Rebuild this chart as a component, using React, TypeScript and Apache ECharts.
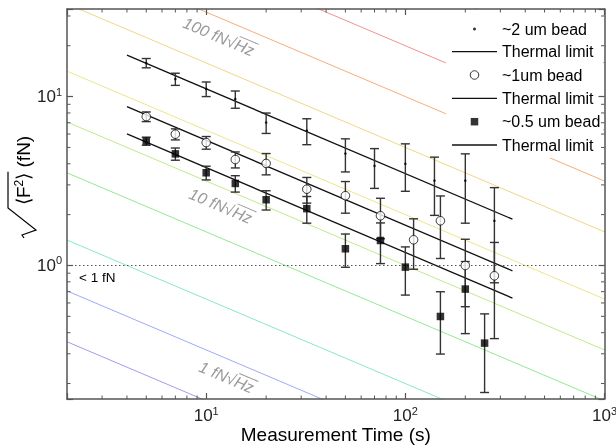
import React, { useEffect, useRef } from 'react';
import * as echarts from 'echarts';

const FONT = '"Liberation Sans", Arial, Helvetica, sans-serif';

// Axis ranges (log-log)
const X_MIN = 2;
const X_MAX = 1000;
const Y_MIN = 0.162;
const Y_MAX = 33;
const X_MINOR_TICKS = [3, 4, 5, 6, 7, 8, 9, 20, 30, 40, 50, 60, 70, 80, 90, 200, 300, 400, 500, 600, 700, 800, 900];
const Y_MINOR_TICKS = [0.2, 0.3, 0.4, 0.5, 0.6, 0.7, 0.8, 0.9, 2, 3, 4, 5, 6, 7, 8, 9, 20, 30];

// ~2 um bead
const t2um = [5, 7, 10, 14, 20, 32, 50, 70, 100, 140, 200, 280];
const f2um = [15.8, 12.7, 11.1, 9.66, 7.02, 6.29, 4.6, 3.89, 4.0, 3.18, 3.18, 1.84];
const e2um = [1.0, 1.05, 1.1, 1.13, 0.97, 1.1, 1.02, 1.03, 1.25, 1.2, 1.4, 1.05];

// ~1 um bead
const t1um = [5, 7, 10, 14, 20, 32, 50, 75, 110, 150, 200, 280];
const f1um = [7.61, 5.99, 5.34, 4.24, 4.02, 2.83, 2.59, 1.97, 1.42, 1.84, 1.0, 0.869];
const e1um = [0.5, 0.45, 0.46, 0.46, 0.58, 0.49, 0.55, 0.53, 0.47, 0.74, 0.43, 0.5];

// ~0.5 um bead
const t05um = [5, 7, 10, 14, 20, 32, 50, 75, 100, 150, 200, 250];
const f05um = [5.45, 4.58, 3.54, 3.06, 2.45, 2.17, 1.256, 1.406, 0.978, 0.499, 0.725, 0.347];
const e05um = [0.3, 0.38, 0.33, 0.34, 0.32, 0.39, 0.28, 0.38, 0.31, 0.2, 0.33, 0.17];

// Thermal limit lines (end points)
const thermalT = [4, 345];
const thermal2um = [17.6, 1.88];
const thermal1um = [8.73, 0.93];
const thermal05um = [6.02, 0.641];

// Constant force-noise reference lines, level in fN·√Hz (F = level / √T)
const refLevels = [0.5, 1, 2, 5, 10, 20, 50, 100, 200, 500];
const refColors = ['#a898ee', '#9eaaf6', '#86e8cc', '#94e894', '#c0ea8c', '#ece68a', '#f2d684', '#f5ad7c', '#f29090', '#e48ce4'];

const legendNames = ['~2 um bead', 'Thermal limit (~2 um)', '~1um bead', 'Thermal limit (~1um)', '~0.5 um bead', 'Thermal limit (~0.5 um)'];
const legendLabels = ['~2 um bead', 'Thermal limit', '~1um bead', 'Thermal limit', '~0.5 um bead', 'Thermal limit'];

export default function App() {
  const ref = useRef<HTMLDivElement>(null);

  useEffect(() => {
    document.body.style.margin = '0';
    const chart = echarts.init(ref.current!, null, { renderer: 'svg' });
    const ctx = document.createElement('canvas').getContext('2d')!;
    const measure = (t: string, font: string) => {
      ctx.font = font;
      return ctx.measureText(t).width;
    };

    const powLabel = (v: number) => {
      const l = Math.log10(v);
      const e = Math.round(l);
      if (Math.abs(l - e) > 1e-6) return '';
      return `{b|10}{s|${e}}`;
    };
    const labelRich = {
      b: { fontSize: 17, fontFamily: FONT, color: '#222' },
      s: { fontSize: 11, fontFamily: FONT, color: '#222', padding: [0, 0, 10, 0] },
    };
    const frame = { color: '#555', width: 1.5 };

    const xCommon = {
      type: 'log', logBase: 10, min: X_MIN, max: X_MAX, z: 5,
      axisLine: { show: true, onZero: false, lineStyle: frame },
      axisTick: { show: true, inside: true, length: 6, lineStyle: { color: '#555', width: 1.2 } },
      splitLine: { show: false }, minorTick: { show: false }, minorSplitLine: { show: false },
    };
    const yCommon = {
      type: 'log', logBase: 10, min: Y_MIN, max: Y_MAX, z: 5,
      axisLine: { show: true, onZero: false, lineStyle: frame },
      axisTick: { show: true, inside: true, length: 6, lineStyle: { color: '#555', width: 1.2 } },
      splitLine: { show: false }, minorTick: { show: false }, minorSplitLine: { show: false },
    };

    const errData = (t: number[], f: number[], e: number[]) => t.map((x, i) => [x, f[i] - e[i], f[i] + e[i]]);
    const errSeries = (name: string, t: number[], f: number[], e: number[]) => ({
      type: 'custom', name, silent: true, z: 3,
      data: errData(t, f, e),
      encode: { x: 0, y: [1, 2] },
      renderItem: (params: any, api: any) => {
        const x = api.value(0);
        const lo = api.coord([x, api.value(1)]);
        const hi = api.coord([x, api.value(2)]);
        const w = 4.5;
        const st = { stroke: '#333', lineWidth: 1.4 };
        return {
          type: 'group',
          children: [
            { type: 'line', shape: { x1: lo[0], y1: lo[1], x2: hi[0], y2: hi[1] }, style: st },
            { type: 'line', shape: { x1: lo[0] - w, y1: lo[1], x2: lo[0] + w, y2: lo[1] }, style: st },
            { type: 'line', shape: { x1: hi[0] - w, y1: hi[1], x2: hi[0] + w, y2: hi[1] }, style: st },
          ],
        };
      },
    });

    const refSeries = refLevels.map((lv, i) => ({
      type: 'line', name: `ref ${lv}`, silent: true, z: 1, clip: true,
      symbol: 'none', showSymbol: false,
      lineStyle: { color: refColors[i], width: 1 },
      data: [[X_MIN, lv / Math.sqrt(X_MIN)], [X_MAX, lv / Math.sqrt(X_MAX)]],
    }));

    const thermalSeries = (name: string, vals: number[]) => ({
      type: 'line', name, silent: true, z: 2, color: '#111',
      symbol: 'none', showSymbol: false,
      lineStyle: { color: '#111', width: 1.3 },
      data: thermalT.map((t, i) => [t, vals[i]]),
    });

    const minorTickSeries = [
      {
        type: 'custom', name: 'x minor ticks', silent: true, z: 5,
        data: X_MINOR_TICKS.map((v) => [v, Y_MIN]),
        renderItem: (params: any, api: any) => {
          const cs = params.coordSys;
          const px = api.coord([api.value(0), Y_MIN])[0];
          const st = { stroke: '#555', lineWidth: 1 };
          return {
            type: 'group', children: [
              { type: 'line', shape: { x1: px, y1: cs.y + cs.height, x2: px, y2: cs.y + cs.height - 3.5 }, style: st },
              { type: 'line', shape: { x1: px, y1: cs.y, x2: px, y2: cs.y + 3.5 }, style: st },
            ],
          };
        },
      },
      {
        type: 'custom', name: 'y minor ticks', silent: true, z: 5,
        data: Y_MINOR_TICKS.map((v) => [X_MIN, v]),
        renderItem: (params: any, api: any) => {
          const cs = params.coordSys;
          const py = api.coord([X_MIN, api.value(1)])[1];
          const st = { stroke: '#555', lineWidth: 1 };
          return {
            type: 'group', children: [
              { type: 'line', shape: { x1: cs.x, y1: py, x2: cs.x + 3.5, y2: py }, style: st },
              { type: 'line', shape: { x1: cs.x + cs.width, y1: py, x2: cs.x + cs.width - 3.5, y2: py }, style: st },
            ],
          };
        },
      },
    ];

    // Legend layout: icon box 45 px wide at x = 452, text 5 px after it.
    const LEG_X = 452;
    const LEG_W = 45;
    const rowCenters = [29, 51.7, 75, 98.3, 121.7, 145];
    const legendIcons: any[] = [
      { icon: 'circle', h: 3, keep: true, shift: (LEG_W - 3) / 2 },
      { icon: 'rect', h: 1.3, keep: false, shift: 0 },
      { icon: 'circle', h: 8.5, keep: true, shift: (LEG_W - 8.5) / 2 - 0.5, itemStyle: { color: '#fff', borderColor: '#000', borderWidth: 1 } },
      { icon: 'rect', h: 1.3, keep: false, shift: 0 },
      { icon: 'path://M0,0h10v10h-10z', h: 7.5, keep: true, shift: (LEG_W - 7.5) / 2 },
      { icon: 'rect', h: 1.3, keep: false, shift: 0 },
    ];
    const legends = legendNames.map((n, i) => {
      const li = legendIcons[i];
      const lg: any = {
        data: [{ name: n, icon: li.icon }],
        orient: 'vertical', left: LEG_X + li.shift, top: rowCenters[i] - 8, padding: 0,
        itemWidth: LEG_W, itemHeight: li.h, symbolKeepAspect: li.keep,
        selectedMode: false, z: 10,
        formatter: () => legendLabels[i],
        textStyle: { fontSize: 16, fontFamily: FONT, color: '#000' },
      };
      if (li.itemStyle) lg.itemStyle = li.itemStyle;
      return lg;
    });

    // reference-line labels
    const lblFont = `italic 16px ${FONT}`;
    const refLabel = (lvl: string, x: number, y: number) => {
      const w1 = measure(`${lvl} fN√`, lblFont);
      const w2 = measure('Hz', lblFont);
      return {
        type: 'group', x, y, rotation: -0.4007, z: 3,
        children: [
          { type: 'text', z: 3, style: { text: `${lvl} fN√Hz`, x: 0, y: 0, fill: '#999', fontSize: 16, fontStyle: 'italic', fontFamily: FONT, verticalAlign: 'middle', align: 'left' } },
          { type: 'line', z: 3, shape: { x1: w1 + 1, y1: -8.5, x2: w1 + w2 + 2, y2: -8.5 }, style: { stroke: '#999', lineWidth: 1 } },
        ],
      };
    };

    // y axis title: sqrt(<F^2>) (fN)
    const wBr = measure('⟨F', `19px ${FONT}`) + measure('2', `12px ${FONT}`) + measure('⟩', `19px ${FONT}`);
    const yTitle = {
      type: 'group', x: 22, y: 187, rotation: Math.PI / 2, z: 3,
      children: [
        {
          type: 'polyline', z: 3,
          shape: { points: [[-51, 2], [-48, 0], [-43, 14], [-21, -14], [-18 + wBr + 1, -14]] },
          style: { stroke: '#000', lineWidth: 1.2, fill: null },
        },
        {
          type: 'text', z: 3,
          style: {
            text: '{a|⟨F}{s|2}{a|⟩}{a| (fN)}', x: -18, y: 1, verticalAlign: 'middle', align: 'left',
            rich: {
              a: { fontSize: 19, fontFamily: FONT, fill: '#000' },
              s: { fontSize: 12, fontFamily: FONT, fill: '#000', padding: [0, 0, 9, 0] },
            },
          },
        },
      ],
    };

    const option: any = {
      animation: false,
      textStyle: { fontFamily: FONT },
      grid: { left: 67, right: 11.5, top: 9, bottom: 48, containLabel: false, outerBoundsMode: 'none' },
      xAxis: [
        {
          ...xCommon, position: 'bottom',
          name: 'Measurement Time (s)', nameLocation: 'middle', nameGap: 26, nameMoveOverlap: false,
          nameTextStyle: { fontSize: 19, color: '#000', fontFamily: FONT },
          axisLabel: { show: true, margin: 6, formatter: powLabel, rich: labelRich, color: '#222', showMinLabel: true, showMaxLabel: true, hideOverlap: false },
        },
        { ...xCommon, position: 'top', axisLabel: { show: false } },
      ],
      yAxis: [
        {
          ...yCommon, position: 'left',
          axisLabel: { show: true, margin: 5, formatter: powLabel, rich: labelRich, color: '#222', hideOverlap: false },
        },
        { ...yCommon, position: 'right', axisLabel: { show: false } },
      ],
      legend: legends,
      series: [
        ...refSeries,
        thermalSeries(legendNames[1], thermal2um),
        thermalSeries(legendNames[3], thermal1um),
        thermalSeries(legendNames[5], thermal05um),
        errSeries('err 2um', t2um, f2um, e2um),
        errSeries('err 1um', t1um, f1um, e1um),
        errSeries('err 05um', t05um, f05um, e05um),
        {
          type: 'scatter', name: legendNames[0], z: 4, silent: true,
          symbol: 'circle', symbolSize: 2.6,
          itemStyle: { color: '#000' },
          data: t2um.map((t, i) => [t, f2um[i]]),
        },
        {
          type: 'scatter', name: legendNames[2], z: 4, silent: true,
          symbol: 'circle', symbolSize: 8.5,
          itemStyle: { color: '#fff', borderColor: '#000', borderWidth: 1 },
          data: t1um.map((t, i) => [t, f1um[i]]),
        },
        {
          type: 'scatter', name: legendNames[4], z: 4, silent: true,
          symbol: 'rect', symbolSize: 7.5,
          itemStyle: { color: '#000' },
          data: t05um.map((t, i) => [t, f05um[i]]),
          markLine: {
            silent: true, symbol: 'none', z: 2,
            lineStyle: { type: [1.5, 2.5], color: '#555', width: 1 },
            label: { show: true, position: 'insideStartBottom', formatter: '< 1 fN', color: '#000', fontSize: 13.5, fontFamily: FONT, distance: [12, 5] },
            data: [{ yAxis: 1 }],
          },
        },
        ...minorTickSeries,
      ],
      graphic: {
        elements: [
          { type: 'rect', z: 3, shape: { x: 446, y: 9, width: 157, height: 149 }, style: { fill: '#fff' } },
          refLabel('100', 184, 22),
          refLabel('10', 190, 193),
          refLabel('1', 200, 366),
          yTitle,
        ],
      },
    };

    chart.setOption(option);
    return () => chart.dispose();
  }, []);

  return <div ref={ref} style={{ position: 'fixed', left: 0, top: 0, width: 616, height: 447 }} />;
}
